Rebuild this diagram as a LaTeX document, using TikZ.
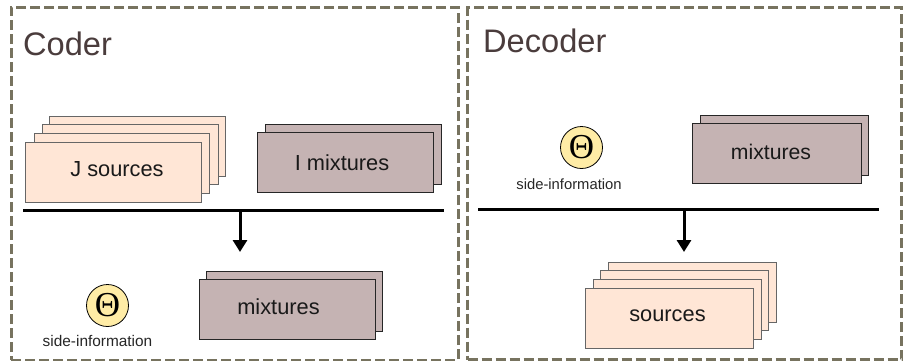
\documentclass[tikz,border=0pt]{standalone}
\usepackage{fontspec}
\setmainfont{Liberation Sans}
\newfontfamily\thetafont{Liberation Serif}
\usetikzlibrary{arrows.meta}
\definecolor{framecol}{RGB}{119,115,95}
\definecolor{titlecol}{RGB}{74,60,60}
\definecolor{sourcecol}{RGB}{255,230,214}
\definecolor{mixcol}{RGB}{197,179,179}
\definecolor{thetacol}{RGB}{255,236,166}
\tikzset{
  frame/.style={draw=framecol,line width=3pt,dash pattern=on 10pt off 4pt,anchor=north west,inner sep=0pt},
  title/.style={text=titlecol,font=\fontsize{32.6}{34}\selectfont,anchor=base west,inner sep=0pt},
  sourcebox/.style={draw=black!60,fill=sourcecol,line width=1pt,anchor=north west,inner sep=0pt},
  mixbox/.style={draw=black!85,fill=mixcol,line width=1pt,anchor=north west,inner sep=0pt},
  boxlabel/.style={anchor=base,inner sep=0pt,text=black!90,font=\fontsize{21.8}{24}\selectfont},
  theta/.style={circle,draw=black,fill=thetacol,line width=0.8pt,minimum size=42pt,inner sep=0pt,font=\thetafont\fontsize{35}{35}\selectfont},
  sidelabel/.style={anchor=base,inner sep=0pt,text=black!85,font=\fontsize{15.4}{17}\selectfont},
  barline/.style={line width=3pt},
  down/.style={-{Triangle[length=12pt,width=14pt]},line width=3pt}
}
\begin{document}
\begin{tikzpicture}[x=1pt,y=-1pt]
\useasboundingbox (0,0) rectangle (903,360);
% frames
\node[frame,minimum width=447pt,minimum height=353pt] (coderframe) at (9.5,5.5) {};
\node[frame,minimum width=434pt,minimum height=352pt] (decoderframe) at (466,6) {};
\node[title] (codertitle) at (23,55) {Coder};
\node[title] (decodertitle) at (483,52) {Decoder};
% coder, top
\node[sourcebox,minimum width=176pt,minimum height=60pt] (srcd) at (49,116) {};
\node[sourcebox,minimum width=176pt,minimum height=60pt] (srcc) at (41.5,124) {};
\node[sourcebox,minimum width=175pt,minimum height=60pt] (srcb) at (34,133) {};
\node[sourcebox,minimum width=176pt,minimum height=60pt] (srca) at (25,142) {};
\node[boxlabel] (srcalabel) at (117,176.7) {J sources};
\node[mixbox,minimum width=176pt,minimum height=60pt] (mixb) at (265,123.5) {};
\node[mixbox,minimum width=176pt,minimum height=60pt] (mixa) at (257,131.7) {};
\node[boxlabel] (mixalabel) at (342,170) {I mixtures};
\coordinate (barl) at (23,210.5);
\coordinate (barr) at (444,210.5);
\coordinate (bart) at (240,210.5);
\coordinate (arrowend) at (240,252);
\draw[barline] (barl) -- (barr);
\draw[down] (bart) -- (arrowend);
% coder, bottom
\node[theta] (thetaa) at (107.5,305.5) {Θ};
\node[sidelabel] (sidea) at (97.5,346.7) {side-information};
\node[mixbox,minimum width=176pt,minimum height=60pt] (mixd) at (206,271) {};
\node[mixbox,minimum width=176pt,minimum height=60pt] (mixc) at (199,279) {};
\node[boxlabel] (mixclabel) at (278.5,314) {mixtures};
% decoder, top
\node[theta] (thetab) at (581.5,147.5) {Θ};
\node[sidelabel,font=\fontsize{14.8}{17}\selectfont] (sideb) at (569,189) {side-information};
\node[mixbox,minimum width=168.5pt,minimum height=60pt] (mixf) at (699.5,115) {};
\node[mixbox,minimum width=169pt,minimum height=60pt] (mixe) at (692,123) {};
\node[boxlabel,font=\fontsize{21.2}{24}\selectfont] (mixelabel) at (771,159) {mixtures};
\coordinate (barc) at (478,209);
\coordinate (bard) at (879,209);
\coordinate (bare) at (684,209);
\coordinate (arrowendb) at (684,252);
\draw[barline] (barc) -- (bard);
\draw[down] (bare) -- (arrowendb);
% decoder, bottom
\node[sourcebox,minimum width=168pt,minimum height=60pt] (srch) at (607.5,262) {};
\node[sourcebox,minimum width=168pt,minimum height=60pt] (srcg) at (600,270) {};
\node[sourcebox,minimum width=168pt,minimum height=60pt] (srcf) at (592.7,279) {};
\node[sourcebox,minimum width=168pt,minimum height=60pt] (srce) at (585,288) {};
\node[boxlabel] (srcelabel) at (667.5,321.7) {sources};
\end{tikzpicture}
\end{document}
